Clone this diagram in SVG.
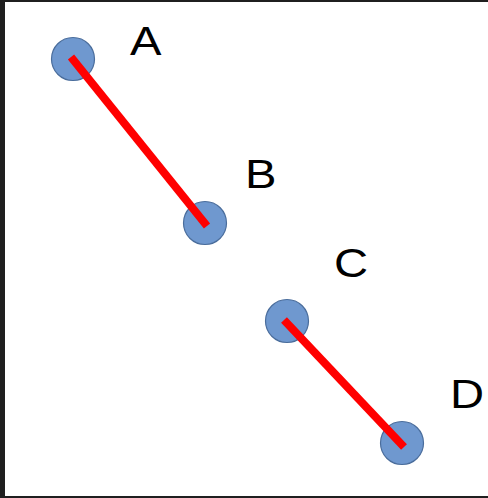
<svg xmlns="http://www.w3.org/2000/svg" width="488" height="498" viewBox="0 0 488 498">
  <style>
    .node { fill: #6f98cf; stroke: #4a6d9c; stroke-width: 1.2; }
    .edge { stroke: #ff0000; stroke-width: 8; stroke-linecap: butt; fill: none; }
    .label { font-family: "Liberation Sans", Arial, sans-serif; font-size: 40px; fill: #000000; }
  </style>
  <rect x="0" y="0" width="488" height="498" fill="#1f1f1f"/>
  <rect x="5" y="2" width="483" height="494" fill="#ffffff"/>
  <g id="node-A">
    <circle class="node" cx="73" cy="59" r="21.5"/>
    <text class="label" transform="translate(130 55) scale(1.18 1)">A</text>
  </g>
  <g id="node-B">
    <circle class="node" cx="205" cy="223" r="21.5"/>
    <text class="label" transform="translate(245 188) scale(1.18 1)">B</text>
  </g>
  <g id="node-C">
    <circle class="node" cx="287" cy="321" r="21.5"/>
    <text class="label" transform="translate(334 277) scale(1.18 1)">C</text>
  </g>
  <g id="node-D">
    <circle class="node" cx="402" cy="443" r="21.5"/>
    <text class="label" transform="translate(450 408) scale(1.18 1)">D</text>
  </g>
  <g id="connectors">
    <line class="edge" x1="71" y1="57" x2="207" y2="226"/>
    <line class="edge" x1="284" y1="320" x2="404" y2="447"/>
  </g>
</svg>
